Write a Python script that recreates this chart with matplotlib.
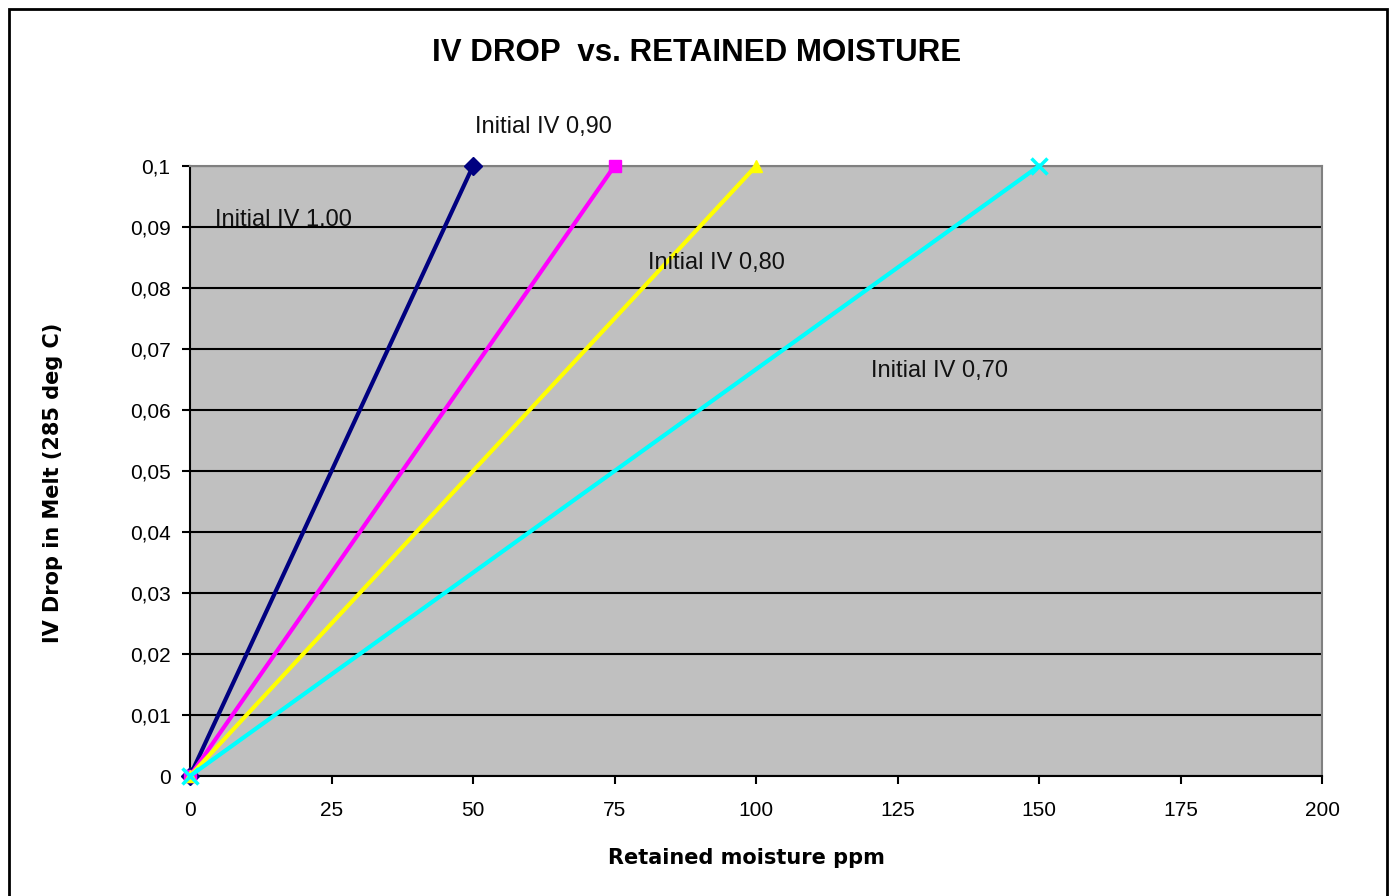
import matplotlib
matplotlib.use('Agg')
import matplotlib.pyplot as plt
import numpy as np
from matplotlib.patches import Rectangle

# data: each series goes from 0 to the end point
moisture_end = [50, 75, 100, 150]
iv_drop_end = [0.1, 0.1, 0.1, 0.1]
series_names = ['Initial IV 1.00', 'Initial IV 0,90', 'Initial IV 0,80', 'Initial IV 0,70']
colors = ['#000080', '#ff00ff', '#ffff00', '#00ffff']
markers = ['D', 's', '^', 'x']

x_ticks = [0, 25, 50, 75, 100, 125, 150, 175, 200]
y_ticks = [0, 0.01, 0.02, 0.03, 0.04, 0.05, 0.06, 0.07, 0.08, 0.09, 0.1]
y_tick_labels = ['0', '0,01', '0,02', '0,03', '0,04', '0,05', '0,06', '0,07', '0,08', '0,09', '0,1']

plt.rcParams['font.family'] = ['Liberation Sans', 'DejaVu Sans']

fig = plt.figure(figsize=(13.92, 8.96), dpi=100)
fig.patch.set_facecolor('white')
ax = fig.add_axes([190/1392, 1 - 776/896, (1322-190)/1392, (776-166)/896])
ax.set_facecolor('#c0c0c0')

for xe, ye, c, m in zip(moisture_end, iv_drop_end, colors, markers):
    ax.plot([0, xe], [0, ye], color=c, lw=3, marker=m, ms=9 if m != 'x' else 11,
            mew=2.5 if m == 'x' else 1, clip_on=False, zorder=3)

ax.set_xlim(0, 200)
ax.set_ylim(0, 0.1)
ax.set_xticks(x_ticks)
ax.set_xticklabels([str(v) for v in x_ticks])
ax.set_yticks(y_ticks)
ax.set_yticklabels(y_tick_labels)
ax.tick_params(axis='both', labelsize=15, direction='out', length=6, width=1.5)
ax.tick_params(axis='x', pad=12)
ax.tick_params(axis='y', pad=8)
ax.yaxis.grid(True, color='black', lw=1.5)
ax.set_axisbelow(True)
for s in ['left', 'bottom']:
    ax.spines[s].set_color('black')
    ax.spines[s].set_linewidth(1.5)
for s in ['top', 'right']:
    ax.spines[s].set_color('#808080')
    ax.spines[s].set_linewidth(1.5)

# series labels
lab = dict(fontsize=17, va='center', ha='left', color='#111111')
ax.text(4.4, 0.0912, series_names[0], **lab)
ax.text(50.4, 0.1064, series_names[1], clip_on=False, **lab)
ax.text(81.0, 0.0841, series_names[2], **lab)
ax.text(120.3, 0.0664, series_names[3], **lab)

fig.text(697/1392, 1 - 53/896, 'IV DROP  vs. RETAINED MOISTURE', fontsize=22.5,
         fontweight='bold', ha='center', va='center')
fig.text(746/1392, 1 - 858/896, 'Retained moisture ppm', fontsize=15,
         family='DejaVu Sans', fontweight='bold', ha='center', va='center')
fig.text(53/1392, 1 - 483/896, 'IV Drop in Melt (285 deg C)', fontsize=15,
         family='DejaVu Sans', fontweight='bold', ha='center', va='center', rotation=90)

# outer frame of the chart
fig.patches.append(Rectangle((9/1392, -0.05), (1387-9)/1392, 1.05 - 9/896,
                             transform=fig.transFigure, fill=False,
                             edgecolor='black', lw=2))

fig.savefig('out.png', dpi=100)
